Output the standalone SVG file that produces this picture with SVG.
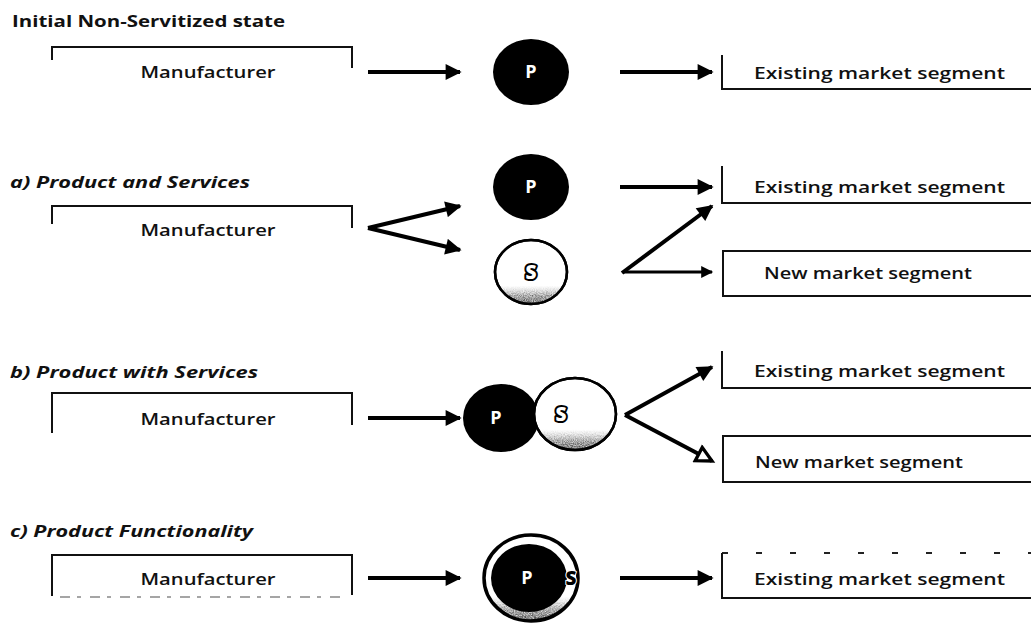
<svg xmlns="http://www.w3.org/2000/svg" width="1031" height="623" viewBox="0 0 1031 623">
  <defs>
    <style>
      .title { font-family: "Open Sans", "Liberation Sans", sans-serif; font-weight: 700; font-size: 16px; fill: #111; }
      .ital { font-style: italic; }
      .lbl { font-family: "Open Sans", "Liberation Sans", sans-serif; font-weight: 600; font-size: 17px; fill: #111; }
      .frame { fill: none; stroke: #111; stroke-width: 2; }
      .conn { stroke: #000; stroke-width: 4; fill: none; }
      .thin { stroke-width: 3; }
      .prod { fill: #000; }
      .serv { fill: #fff; stroke: #000; stroke-width: 2.5; }
      .pl { font-family: "Open Sans", "Liberation Sans", sans-serif; font-weight: 700; font-size: 18px; fill: #fff; text-anchor: middle; }
      .sl { font-family: "Open Sans", "Liberation Sans", sans-serif; font-weight: 800; font-size: 19px; fill: #fff; stroke: #000; stroke-width: 4; paint-order: stroke; stroke-linejoin: round; text-anchor: middle; }
    </style>
    <marker id="head" viewBox="0 0 10 10" refX="9" refY="5" markerWidth="5" markerHeight="4" markerUnits="strokeWidth" orient="auto">
      <path d="M0,0 L10,5 L0,10 z" fill="#000"/>
    </marker>
    <marker id="openhead" viewBox="0 0 12 12" refX="10" refY="6" markerWidth="5.5" markerHeight="5" markerUnits="strokeWidth" orient="auto">
      <path d="M1,1.5 L10,6 L1,10.5 z" fill="#fff" stroke="#000" stroke-width="2"/>
    </marker>
    <linearGradient id="grain" x1="0" y1="0" x2="0" y2="1">
      <stop offset="0.72" stop-color="#fff" stop-opacity="0"/>
      <stop offset="0.88" stop-color="#bbb"/>
      <stop offset="1" stop-color="#666"/>
    </linearGradient>
    <filter id="noise" x="0" y="0" width="1" height="1">
      <feTurbulence type="fractalNoise" baseFrequency="0.9" numOctaves="2" seed="3" result="n"/>
      <feColorMatrix in="n" type="saturate" values="0" result="g"/>
      <feComposite in="SourceGraphic" in2="g" operator="arithmetic" k1="1.4" k2="0" k3="0" k4="0"/>
    </filter>
  </defs>

  <!-- Section headings -->
  <text class="title" x="12" y="27" textLength="273" lengthAdjust="spacingAndGlyphs">Initial Non-Servitized state</text>
  <text class="title ital" x="10" y="188" textLength="240" lengthAdjust="spacingAndGlyphs">a) Product and Services</text>
  <text class="title ital" x="10" y="378" textLength="248" lengthAdjust="spacingAndGlyphs">b) Product with Services</text>
  <text class="title ital" x="10" y="537" textLength="243" lengthAdjust="spacingAndGlyphs">c) Product Functionality</text>

  <!-- Initial state -->
  <g id="mfr0">
    <path class="frame" d="M52,60 V47 H352 V68"/>
    <text class="lbl" x="208" y="78" text-anchor="middle" textLength="135" lengthAdjust="spacingAndGlyphs">Manufacturer</text>
  </g>
  <g id="p0">
    <ellipse class="prod" cx="531" cy="72" rx="38" ry="33"/>
    <text class="pl" x="531" y="78">P</text>
  </g>
  <g id="mkt0">
    <path class="frame" d="M722,55 V89 H1031"/>
    <text class="lbl" x="754" y="79" textLength="251" lengthAdjust="spacingAndGlyphs">Existing market segment</text>
  </g>

  <!-- a) Product and Services -->
  <g id="mfrA">
    <path class="frame" d="M52,224 V206 H352 V228"/>
    <text class="lbl" x="208" y="236" text-anchor="middle" textLength="135" lengthAdjust="spacingAndGlyphs">Manufacturer</text>
  </g>
  <g id="pA">
    <ellipse class="prod" cx="531" cy="187" rx="38" ry="33"/>
    <text class="pl" x="531" y="193">P</text>
  </g>
  <g id="sA">
    <ellipse class="serv" cx="531" cy="272" rx="36" ry="32"/>
    <ellipse cx="531" cy="272" rx="35" ry="31" fill="url(#grain)" filter="url(#noise)"/>
    <ellipse cx="531" cy="272" rx="36" ry="32" fill="none" stroke="#000" stroke-width="2.5"/>
    <text class="sl" x="531" y="279">S</text>
  </g>
  <g id="mktA1">
    <path class="frame" d="M722,166 V203 H1031"/>
    <text class="lbl" x="754" y="193" textLength="251" lengthAdjust="spacingAndGlyphs">Existing market segment</text>
  </g>
  <g id="mktA2">
    <path class="frame" d="M1031,251 H723 V296 H1031"/>
    <text class="lbl" x="764" y="279" textLength="208" lengthAdjust="spacingAndGlyphs">New market segment</text>
  </g>

  <!-- b) Product with Services -->
  <g id="mfrB">
    <path class="frame" d="M52,433 V393 H352 V425"/>
    <text class="lbl" x="208" y="425" text-anchor="middle" textLength="135" lengthAdjust="spacingAndGlyphs">Manufacturer</text>
  </g>
  <g id="psB">
    <ellipse class="prod" cx="501" cy="418" rx="38" ry="34"/>
    <ellipse class="serv" cx="575" cy="414" rx="41" ry="36"/>
    <ellipse cx="575" cy="414" rx="40" ry="35" fill="url(#grain)" filter="url(#noise)"/>
    <ellipse cx="575" cy="414" rx="41" ry="36" fill="none" stroke="#000" stroke-width="2.5"/>
    <text class="pl" x="496" y="424">P</text>
    <text class="sl" x="561" y="421">S</text>
  </g>
  <g id="mktB1">
    <path class="frame" d="M722,351 V388 H1031"/>
    <text class="lbl" x="754" y="377" textLength="251" lengthAdjust="spacingAndGlyphs">Existing market segment</text>
  </g>
  <g id="mktB2">
    <path class="frame" d="M1031,436 H723 V482 H1031"/>
    <text class="lbl" x="755" y="468" textLength="208" lengthAdjust="spacingAndGlyphs">New market segment</text>
  </g>

  <!-- c) Product Functionality -->
  <g id="mfrC">
    <path class="frame" d="M52,596 V555 H352 V595"/>
    <path d="M60,597 H340" stroke="#888" stroke-width="1.5" stroke-dasharray="10 7 4 9"/>
    <text class="lbl" x="208" y="585" text-anchor="middle" textLength="135" lengthAdjust="spacingAndGlyphs">Manufacturer</text>
  </g>
  <g id="psC">
    <ellipse cx="531" cy="578" rx="47" ry="43" fill="#fff"/>
    <ellipse cx="531" cy="578" rx="46" ry="42" fill="url(#grain)" filter="url(#noise)"/>
    <ellipse cx="531" cy="578" rx="47" ry="43" fill="none" stroke="#000" stroke-width="3.5"/>
    <ellipse class="prod" cx="529" cy="578" rx="38" ry="34"/>
    <text class="pl" x="527" y="584">P</text>
    <text class="sl" x="571" y="585" style="fill:#000;stroke:#fff;stroke-width:2">S</text>
  </g>
  <g id="mktC">
    <path d="M722,553 H1031" stroke="#222" stroke-width="2" stroke-dasharray="6 28"/>
    <path class="frame" d="M722,553 V598 H1031"/>
    <text class="lbl" x="754" y="585" textLength="251" lengthAdjust="spacingAndGlyphs">Existing market segment</text>
  </g>

  <!-- Connectors -->
  <g id="connectors">
    <line class="conn" x1="368" y1="72" x2="460" y2="72" marker-end="url(#head)"/>
    <line class="conn" x1="620" y1="72" x2="712" y2="72" marker-end="url(#head)"/>

    <line class="conn" x1="368" y1="228" x2="460" y2="206" marker-end="url(#head)"/>
    <line class="conn" x1="368" y1="228" x2="460" y2="250" marker-end="url(#head)"/>
    <line class="conn" x1="620" y1="187" x2="712" y2="187" marker-end="url(#head)"/>
    <line class="conn" x1="622" y1="273" x2="712" y2="206" marker-end="url(#head)"/>
    <line class="conn thin" x1="624" y1="272" x2="712" y2="272" marker-end="url(#head)"/>

    <line class="conn" x1="368" y1="418" x2="460" y2="418" marker-end="url(#head)"/>
    <line class="conn" x1="625" y1="415" x2="712" y2="367" marker-end="url(#head)"/>
    <line class="conn" x1="625" y1="415" x2="712" y2="461" marker-end="url(#openhead)"/>

    <line class="conn" x1="368" y1="578" x2="460" y2="578" marker-end="url(#head)"/>
    <line class="conn" x1="620" y1="578" x2="712" y2="578" marker-end="url(#head)"/>
  </g>
</svg>
